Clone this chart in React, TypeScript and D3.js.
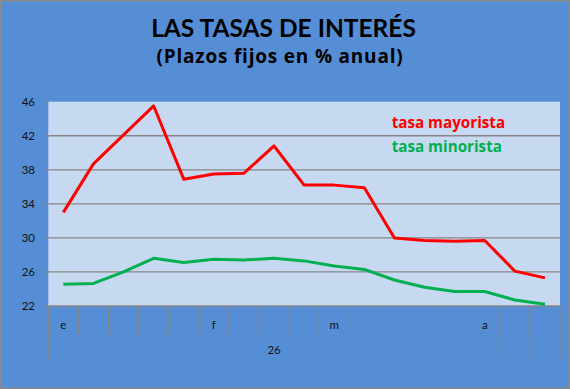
import React from "react";
import * as d3 from "d3";

const categories = ["e", "", "", "", "", "f", "", "", "", "m", "", "", "", "", "a", "", ""];
const groups = [
  { label: "26", start: 0, end: 14 },
  { label: "", start: 15, end: 15 },
  { label: "", start: 16, end: 16 },
];
const mayorista = [33.0, 38.7, 42.1, 45.5, 36.9, 37.5, 37.6, 40.8, 36.2, 36.2, 35.9, 30.0, 29.7, 29.6, 29.7, 26.1, 25.3];
const minorista = [24.55, 24.65, 26.0, 27.6, 27.1, 27.5, 27.4, 27.6, 27.3, 26.7, 26.3, 25.05, 24.2, 23.7, 23.7, 22.7, 22.2];
const yTicks = [22, 26, 30, 34, 38, 42, 46];

const W = 570;
const H = 389;
const FONT = "Lato, 'Open Sans', sans-serif";
const FONT2 = "'Open Sans', Lato, sans-serif";

export default function App() {
  const x = d3.scaleBand<number>().domain(categories.map((_, i) => i)).range([48.3, 560]).padding(0);
  const y = d3.scaleLinear().domain([22, 46]).range([306, 101.7]);
  const cx = (i: number) => (x(i) as number) + x.bandwidth() / 2;
  const line = d3
    .line<number>()
    .x((_, i) => cx(i))
    .y((d) => y(d));
  const grid = "#868686";
  const left = 48.3;
  const right = 560;
  return (
    <svg width={W} height={H} style={{ position: "absolute", left: 0, top: 0 }}>
      <rect x={0.75} y={0.75} width={W - 1.5} height={H - 1.5} fill="#558ED5" stroke="#8a8a8a" strokeWidth={1.5} />
      <rect x={left} y={y(46)} width={right - left} height={y(22) - y(46)} fill="#C6D9F1" />
      {yTicks.slice(1, -1).map((t) => (
        <line key={t} x1={left} x2={right} y1={y(t)} y2={y(t)} stroke={grid} strokeWidth={1.3} />
      ))}
      {yTicks.map((t) => (
        <g key={"t" + t}>
          <line x1={left - 4} x2={left} y1={y(t)} y2={y(t)} stroke={grid} strokeWidth={1} />
          <text x={35} y={y(t)} dy="0.35em" textAnchor="end" fontFamily={FONT} fontSize={11.5} fill="#111">
            {t}
          </text>
        </g>
      ))}
      <line x1={left} x2={right} y1={y(22)} y2={y(22)} stroke={grid} strokeWidth={1.3} />
      {categories.map((c, i) => (
        <g key={"c" + i}>
          <line x1={x(i) as number} x2={x(i) as number} y1={306} y2={335} stroke={grid} strokeWidth={1} />
          {c && (
            <text x={cx(i)} y={324.5} dy="0.35em" textAnchor="middle" fontFamily={FONT} fontSize={11.5} fill="#111">
              {c}
            </text>
          )}
        </g>
      ))}
      <line x1={right} x2={right} y1={306} y2={359} stroke={grid} strokeWidth={1} />
      {groups.map((g, k) => {
        const x0 = x(g.start) as number;
        const x1 = (x(g.end) as number) + x.bandwidth();
        return (
          <g key={"g" + k}>
            <line x1={x0} x2={x0} y1={306} y2={359} stroke={grid} strokeWidth={1} />
            {g.label && (
              <text x={(x0 + x1) / 2} y={350} dy="0.35em" textAnchor="middle" fontFamily={FONT} fontSize={11.5} fill="#111">
                {g.label}
              </text>
            )}
          </g>
        );
      })}
      <path d={line(minorista) || ""} fill="none" stroke="#00B050" strokeWidth={3} strokeLinejoin="round" />
      <path d={line(mayorista) || ""} fill="none" stroke="#FF0000" strokeWidth={3} strokeLinejoin="round" />
      <text x={391.7} y={128} fontFamily={FONT2} fontWeight="bold" fontSize={15.2} fill="#FF0000">
        tasa mayorista
      </text>
      <text x={391.7} y={151.7} fontFamily={FONT2} fontWeight="bold" fontSize={15.2} fill="#00B050">
        tasa minorista
      </text>
      <text x={283.5} y={36.7} textAnchor="middle" fontFamily={FONT} fontWeight="bold" fontSize={24.5} fill="#000">
        LAS TASAS DE INTERÉS
      </text>
      <text x={280} y={63.3} textAnchor="middle" fontFamily={FONT2} fontWeight="bold" fontSize={19} letterSpacing={0.8} fill="#000">
        (Plazos fijos en % anual)
      </text>
    </svg>
  );
}
